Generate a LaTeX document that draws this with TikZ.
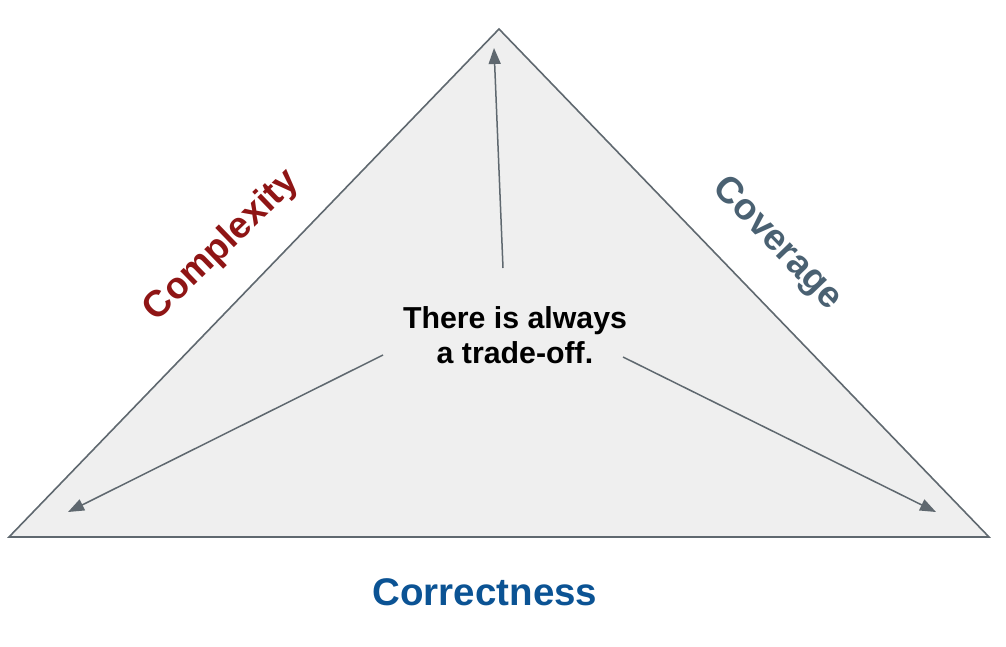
\documentclass[tikz,border=0pt]{standalone}
\usepackage{fontspec}
\setmainfont{Liberation Sans}
\usetikzlibrary{arrows.meta}
\definecolor{edgegray}{HTML}{5F686F}
\definecolor{facegray}{HTML}{EFEFEF}
\definecolor{cplxred}{HTML}{8F1515}
\definecolor{covslate}{HTML}{4A6172}
\definecolor{corrblue}{HTML}{0B5394}
\tikzset{every node/.style={font=\bfseries, inner sep=0pt},
  pull/.style={edgegray, line width=1.5pt, -{Triangle[length=16pt,width=12pt]}},
  sidelabel/.style={font=\bfseries\fontsize{37}{40}\selectfont}}

\begin{document}
\begin{tikzpicture}[x=1pt,y=-1pt]
  \useasboundingbox (0,0) rectangle (1006,646);
  \coordinate (top) at (499,29);
  \coordinate (bl) at (9,537);
  \coordinate (br) at (989,537);
  \fill[facegray] (top) -- (bl) -- (br) -- cycle;
  \draw[edgegray, line width=1.6pt, line join=miter] (top) -- (bl) -- (br) -- cycle;
  \node[align=center, font=\bfseries\fontsize{30.3}{35}\selectfont] (tradeoff) at (515,335) {There is always\\a trade-off.};
  % arrows pulling toward the corners
  \coordinate (upfrom) at (503,268);
  \coordinate (upto) at (494,48);
  \coordinate (leftfrom) at (383,355);
  \coordinate (leftto) at (68,512);
  \coordinate (rightfrom) at (623,357);
  \coordinate (rightto) at (936,512);
  \draw[pull] (upfrom) -- (upto);
  \draw[pull] (leftfrom) -- (leftto);
  \draw[pull] (rightfrom) -- (rightto);
  \node[sidelabel, cplxred, rotate=44] (complexity) at (222,246) {Complexity};
  \node[sidelabel, covslate, rotate=-46] (coverage) at (777,244) {Coverage};
  \node[sidelabel, corrblue, font=\bfseries\fontsize{38.5}{40}\selectfont] (correctness) at (485,592) {Correctness};
\end{tikzpicture}
\end{document}
